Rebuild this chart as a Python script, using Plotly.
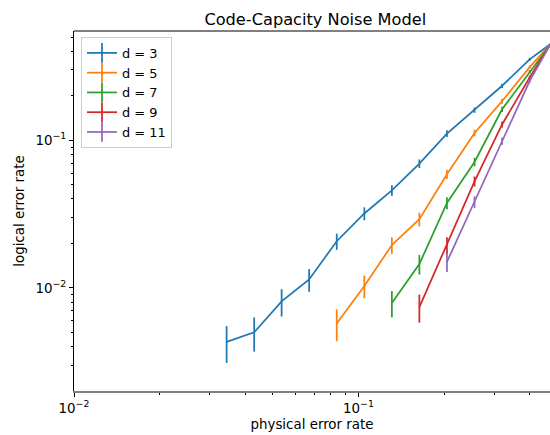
import math
import plotly.graph_objects as go

# ---- data ----
distances = ["d = 3", "d = 5", "d = 7", "d = 9", "d = 11"]
colors = ["#1f77b4", "#ff7f0e", "#2ca02c", "#d62728", "#9467bd"]

p_d3 = [0.0344, 0.0430, 0.0537, 0.0671, 0.0839, 0.1049, 0.1311, 0.1638, 0.2048, 0.2560, 0.3200, 0.4000, 0.5000]
ler_d3 = [0.0043, 0.0050, 0.0081, 0.0114, 0.0207, 0.0319, 0.0458, 0.0695, 0.111, 0.160, 0.234, 0.353, 0.485]
err_d3 = [0.0012, 0.0013, 0.0017, 0.0020, 0.0026, 0.0032, 0.0038, 0.0046, 0.0057, 0.0067, 0.0077, 0.0087, 0.0091]

p_d5 = [0.0839, 0.1049, 0.1311, 0.1638, 0.2048, 0.2560, 0.3200, 0.4000, 0.5000]
ler_d5 = [0.00574, 0.0103, 0.0195, 0.0292, 0.0589, 0.112, 0.184, 0.313, 0.505]
err_d5 = [0.0014, 0.0018, 0.0025, 0.0031, 0.0043, 0.0058, 0.0071, 0.0085, 0.0091]

p_d7 = [0.1311, 0.1638, 0.2048, 0.2560, 0.3200, 0.4000, 0.5000]
ler_d7 = [0.0079, 0.0145, 0.0376, 0.0713, 0.162, 0.291, 0.515]
err_d7 = [0.0016, 0.0022, 0.0035, 0.0047, 0.0067, 0.0083, 0.0091]

p_d9 = [0.1638, 0.2048, 0.2560, 0.3200, 0.4000, 0.5000]
ler_d9 = [0.0074, 0.0195, 0.0527, 0.128, 0.266, 0.530]
err_d9 = [0.0016, 0.0025, 0.0041, 0.0061, 0.0080, 0.0091]

p_d11 = [0.2048, 0.2560, 0.3200, 0.4000, 0.5000]
ler_d11 = [0.0150, 0.0382, 0.0989, 0.252, 0.540]
err_d11 = [0.0022, 0.0035, 0.0055, 0.0079, 0.0091]

x_major = [0.01, 0.1]
x_major_text = ["10<sup>\u22122</sup>", "10<sup>\u22121</sup>"]
y_major = [0.01, 0.1]
y_major_text = ["10<sup>\u22122</sup>", "10<sup>\u22121</sup>"]
x_minor = [0.02, 0.03, 0.04, 0.05, 0.06, 0.07, 0.08, 0.09, 0.2, 0.3, 0.4]
y_minor = [0.003, 0.004, 0.005, 0.006, 0.007, 0.008, 0.009,
           0.02, 0.03, 0.04, 0.05, 0.06, 0.07, 0.08, 0.09, 0.2, 0.3, 0.4, 0.5]

series = [(p_d3, ler_d3, err_d3), (p_d5, ler_d5, err_d5), (p_d7, ler_d7, err_d7),
          (p_d9, ler_d9, err_d9), (p_d11, ler_d11, err_d11)]

FONT = "DejaVu Sans"
LABEL_SIZE = 13.4
fig = go.Figure()

for (px, py, pe), name, c in zip(series, distances, colors):
    fig.add_trace(go.Scatter(
        x=px, y=py, mode="lines", name=name, showlegend=False,
        line=dict(color=c, width=1.75),
        error_y=dict(type="data", array=pe, visible=True, color=c, thickness=1.75, width=0),
    ))

# legend entries (line with vertical error-bar tick)
for name, c in zip(distances, colors):
    fig.add_trace(go.Scatter(
        x=[None], y=[None], mode="lines+markers", name=name,
        line=dict(color=c, width=1.75),
        marker=dict(symbol="line-ns", size=14, color=c, line=dict(color=c, width=1.75)),
    ))

x_lo, x_hi = math.log10(0.01), -0.3264
y_lo, y_hi = math.log10(0.002), math.log10(0.55)

fig.update_layout(
    width=550, height=435,
    margin=dict(l=74, r=0, t=31, b=44, autoexpand=False),
    paper_bgcolor="white", plot_bgcolor="white",
    font=dict(family=FONT, size=LABEL_SIZE, color="black"),
    title=dict(text="Code-Capacity Noise Model", x=315.3 / 550, xref="container", xanchor="center",
               y=1 - 19 / 435, yref="container", yanchor="middle", automargin=False,
               font=dict(family=FONT, size=16.2, color="black")),
    xaxis=dict(
        type="log", range=[x_lo, x_hi], showgrid=False, zeroline=False, automargin=False,
        showline=True, linecolor="#808080", linewidth=1.8,
        tickmode="array", tickvals=x_major, ticktext=x_major_text,
        ticks="outside", ticklen=4, tickwidth=1, tickcolor="black",
        minor=dict(tickmode="array", tickvals=x_minor, ticks="outside", ticklen=2.3, tickwidth=0.9,
                   tickcolor="black", showgrid=False),
        title=dict(text="physical error rate", standoff=5, font=dict(size=LABEL_SIZE)),
        tickfont=dict(size=LABEL_SIZE),
    ),
    yaxis=dict(
        type="log", range=[y_lo, y_hi], showgrid=False, zeroline=False, automargin=False,
        showline=True, linecolor="black", linewidth=1,
        tickmode="array", tickvals=y_major, ticktext=y_major_text,
        ticks="outside", ticklen=4, tickwidth=1, tickcolor="black",
        minor=dict(tickmode="array", tickvals=y_minor, ticks="outside", ticklen=2.3, tickwidth=0.9,
                   tickcolor="black", showgrid=False),
        title=dict(text="logical error rate", standoff=7, font=dict(size=LABEL_SIZE)),
        tickfont=dict(size=LABEL_SIZE),
    ),
    legend=dict(
        x=(81 - 74) / 476, y=(391 - 37) / 360, xanchor="left", yanchor="top",
        bgcolor="rgba(255,255,255,0.8)", bordercolor="#cccccc", borderwidth=1,
        font=dict(family=FONT, size=12.9, color="black"),
    ),
    shapes=[dict(type="line", xref="paper", yref="paper", x0=0, x1=1, y0=1, y1=1,
                 line=dict(color="black", width=1))],
)

fig.write_html(
    "out.html",
    config={"displayModeBar": False},
    post_script="document.body.style.margin='0';document.body.style.overflow='hidden';",
)
